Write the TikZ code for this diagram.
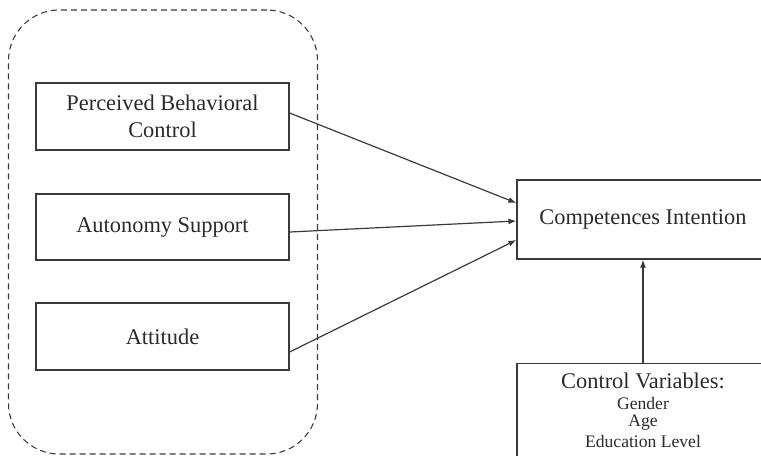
\documentclass[tikz,border=0pt]{standalone}
\usepackage{fontspec}
\setmainfont{Liberation Serif}
\usetikzlibrary{arrows.meta,calc}
\definecolor{ink}{HTML}{2A2A2A}
\definecolor{edge}{HTML}{3A3A3A}
\begin{document}
\begin{tikzpicture}[x=0.75pt,y=-0.75pt,
  box/.style={draw=edge,line width=0.9pt,rectangle,inner sep=0pt,text=ink,align=center,
    font=\fontsize{16.8}{20.5}\selectfont},
  bigtxt/.style={text=ink,inner sep=0pt,font=\fontsize{16.8}{20}\selectfont},
  smalltxt/.style={text=ink,inner sep=0pt,font=\fontsize{13.2}{15}\selectfont},
  conn/.style={draw=edge,line width=0.9pt,-{Latex[length=6pt,width=4.5pt]}},
  group/.style={draw=edge,line width=0.8pt,dash pattern=on 4.5pt off 3pt,rounded corners=38pt}]
\useasboundingbox (0,0) rectangle (761,455);
\clip (0,0) rectangle (761,455);
\node[group,minimum width=0.75*309pt,minimum height=0.75*444pt,inner sep=0pt] (grp) at (163,232) {};
\node[box,minimum width=0.75*253pt,minimum height=0.75*67pt] (pbc) at (162.5,116.5) {Perceived Behavioral\\Control};
\node[box,minimum width=0.75*253pt,minimum height=0.75*66pt] (as) at (162.5,227) {Autonomy Support};
\node[box,minimum width=0.75*253pt,minimum height=0.75*67pt] (att) at (162.5,336.5) {Attitude};
\node[box,minimum width=0.75*252pt,minimum height=0.75*79pt] (ci) at (643,219.5) {Competences Intention};
\node[box,minimum width=0.75*252pt,minimum height=0.75*120pt,anchor=north] (ctrl) at (643,363) {};
\node[bigtxt] (ctitle) at (643,381) {Control Variables:};
\node[smalltxt] (gender) at (643,403) {Gender};
\node[smalltxt] (age) at (643,423) {Age};
\node[smalltxt] (edu) at (643,441) {Education Level};
\draw[conn] ($(pbc.east)+(0,-3.5)$) -- ($(ci.west)+(0,-16.5)$);
\draw[conn] ($(as.east)+(0,5)$) -- ($(ci.west)+(0,1.5)$);
\draw[conn] ($(att.east)+(0,15.5)$) -- ($(ci.west)+(0,20.5)$);
\draw[conn] (ctrl.north) -- (ci.south);
\end{tikzpicture}
\end{document}
